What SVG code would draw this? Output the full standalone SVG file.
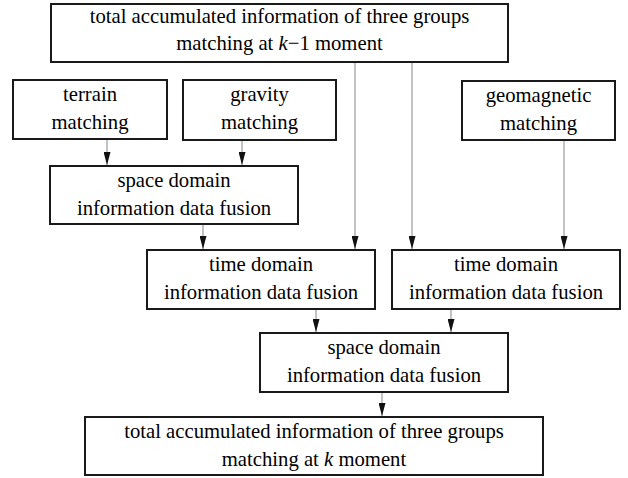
<svg xmlns="http://www.w3.org/2000/svg" width="628" height="478" viewBox="0 0 628 478">
<defs>
<style>
.box{fill:#fff;stroke:#1a1a1a;stroke-width:2}
.c{stroke:#9a9a9a;stroke-width:1.2;fill:none;marker-end:url(#ah)}
</style>
<marker id="ah" markerUnits="userSpaceOnUse" viewBox="0 0 13 7" refX="13" refY="3.5" markerWidth="13" markerHeight="7" orient="auto">
<path d="M0,0 L13,3.5 L0,7 z" fill="#111"/>
</marker>
</defs>
<rect width="628" height="478" fill="#fff"/>
<g id="connectors">
<line class="c" x1="107" y1="140" x2="107" y2="165"/>
<line class="c" x1="242" y1="141" x2="242" y2="165"/>
<line class="c" x1="355" y1="63" x2="355" y2="249"/>
<line class="c" x1="412" y1="63" x2="412" y2="249"/>
<line class="c" x1="203" y1="225" x2="203" y2="249"/>
<line class="c" x1="564" y1="141" x2="564" y2="249"/>
<line class="c" x1="316" y1="310" x2="316" y2="332"/>
<line class="c" x1="451" y1="310" x2="451" y2="332"/>
<line class="c" x1="382" y1="393" x2="382" y2="416"/>
</g>
<g id="top">
<rect class="box" x="51" y="4" width="457" height="58"/>
<text font-family="Liberation Serif" font-size="20.7" text-anchor="middle" x="279.5" y="23">total accumulated information of three groups</text>
<text font-family="Liberation Serif" font-size="20.7" text-anchor="middle" x="279.5" y="50">matching at <tspan font-style="italic">k</tspan>−1 moment</text>
</g>
<g id="terrain">
<rect class="box" x="13" y="80" width="154" height="59"/>
<text font-family="Liberation Serif" font-size="20.7" text-anchor="middle" x="90" y="101">terrain</text>
<text font-family="Liberation Serif" font-size="20.7" text-anchor="middle" x="90" y="129">matching</text>
</g>
<g id="gravity">
<rect class="box" x="183" y="80" width="153" height="60"/>
<text font-family="Liberation Serif" font-size="20.7" text-anchor="middle" x="259.5" y="101">gravity</text>
<text font-family="Liberation Serif" font-size="20.7" text-anchor="middle" x="259.5" y="129">matching</text>
</g>
<g id="geomagnetic">
<rect class="box" x="462" y="81" width="153" height="59"/>
<text font-family="Liberation Serif" font-size="20.7" text-anchor="middle" x="538.5" y="102">geomagnetic</text>
<text font-family="Liberation Serif" font-size="20.7" text-anchor="middle" x="538.5" y="130">matching</text>
</g>
<g id="space1">
<rect class="box" x="50" y="166" width="248" height="58"/>
<text font-family="Liberation Serif" font-size="20.7" text-anchor="middle" x="174" y="187">space domain</text>
<text font-family="Liberation Serif" font-size="20.7" text-anchor="middle" x="174" y="215">information data fusion</text>
</g>
<g id="time1">
<rect class="box" x="147" y="250" width="228" height="59"/>
<text font-family="Liberation Serif" font-size="20.7" text-anchor="middle" x="261" y="271">time domain</text>
<text font-family="Liberation Serif" font-size="20.7" text-anchor="middle" x="261" y="299">information data fusion</text>
</g>
<g id="time2">
<rect class="box" x="392" y="250" width="228" height="59"/>
<text font-family="Liberation Serif" font-size="20.7" text-anchor="middle" x="506" y="271">time domain</text>
<text font-family="Liberation Serif" font-size="20.7" text-anchor="middle" x="506" y="299">information data fusion</text>
</g>
<g id="space2">
<rect class="box" x="260" y="333" width="248" height="59"/>
<text font-family="Liberation Serif" font-size="20.7" text-anchor="middle" x="384" y="354">space domain</text>
<text font-family="Liberation Serif" font-size="20.7" text-anchor="middle" x="384" y="382">information data fusion</text>
</g>
<g id="bottom">
<rect class="box" x="85" y="417" width="458" height="58"/>
<text font-family="Liberation Serif" font-size="20.7" text-anchor="middle" x="314" y="438">total accumulated information of three groups</text>
<text font-family="Liberation Serif" font-size="20.7" text-anchor="middle" x="314" y="466">matching at <tspan font-style="italic">k</tspan> moment</text>
</g>
</svg>
